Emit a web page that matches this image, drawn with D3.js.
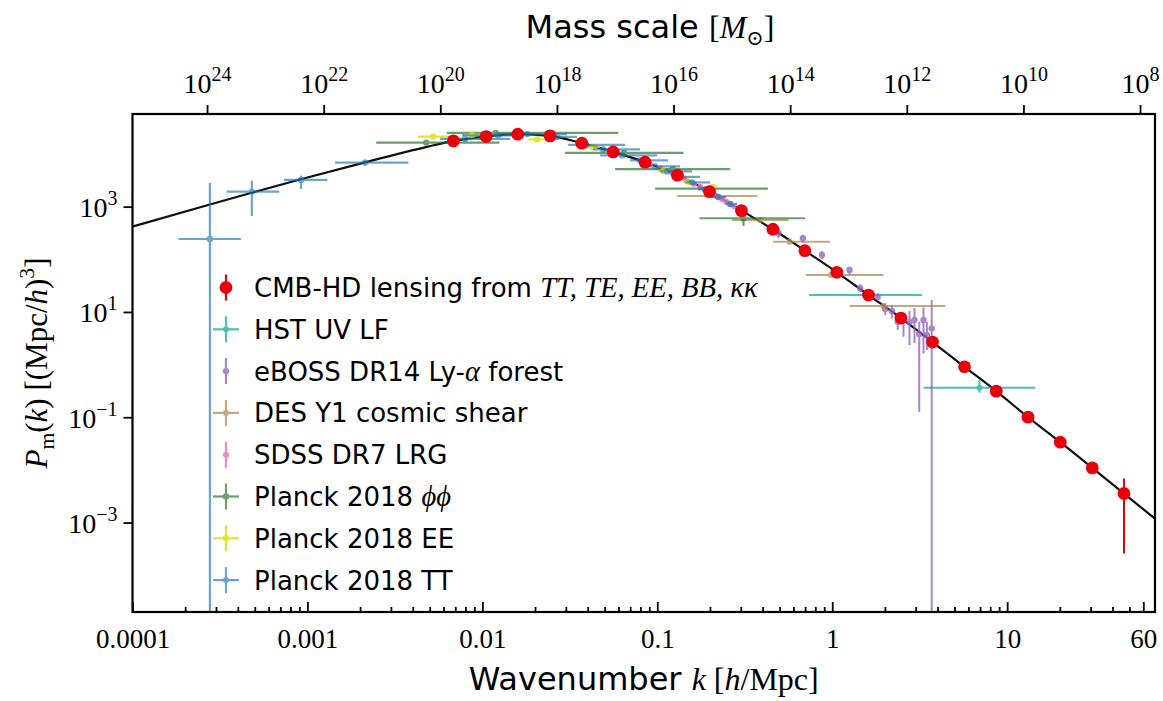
<!DOCTYPE html>
<html>
<head>
<meta charset="utf-8">
<script src="https://cdn.jsdelivr.net/npm/d3@7"></script>
<style>
  html, body { margin: 0; padding: 0; background: #fff; }
  svg { display: block; }
</style>
</head>
<body>
<svg id="chart" width="1163" height="701"></svg>
<script>
// ---------------------------------------------------------------
// Matter power spectrum P_m(k) with current and forecast probes
// k in h/Mpc, P in (Mpc/h)^3
// ---------------------------------------------------------------

// Linear theory model curve
const modelK = [1e-4, 2.77e-4, 4.8e-4, 9.28e-4, 2.135e-3, 4.81e-3, 0.00683, 0.0105, 0.01594, 0.02439, 0.03702, 0.05591, 0.0852, 0.1303, 0.1987, 0.3028, 0.4577, 0.6977, 1.063, 1.612, 2.47, 3.744, 5.704, 8.661, 13.15, 20.12, 30.66, 46.53, 70];
const modelP = [418.5, 1101, 1838, 3347, 6950, 13650, 17740, 21430, 23790, 22090, 16050, 10960, 6984, 3954, 1929, 839.5, 371.9, 145.7, 56.6, 20.96, 7.656, 2.678, 0.9083, 0.3134, 0.1005, 0.03363, 0.01092, 0.003559, 0.00118];

// CMB-HD lensing forecast
const cmbK = [0.00683, 0.0105, 0.01594, 0.02439, 0.03702, 0.05591, 0.0852, 0.1303, 0.1987, 0.3028, 0.4577, 0.6977, 1.063, 1.612, 2.47, 3.744, 5.704, 8.661, 13.15, 20.12, 30.66, 46.53];
const cmbP = [17740, 21430, 23790, 22090, 16050, 10960, 6984, 3954, 1929, 839.5, 371.9, 145.7, 56.6, 20.96, 7.656, 2.678, 0.9083, 0.3134, 0.1005, 0.03363, 0.01092, 0.003559];
const cmbErr = [150, 160, 170, 150, 110, 70, 45, 25, 12, 5, 2.2, 0.9, 0.35, 0.14, 0.06, 0.025, 0.01, 0.005, 0.002, 0.0009, 0.0006, 0.0033];

// HST UV luminosity function
const hstK = [1.578, 6.95];
const hstP = [20.96, 0.3622];
const hstKLo = [0.7382, 3.325];
const hstKHi = [3.256, 14.47];
const hstPLo = [19.5, 0.2911];
const hstPHi = [22.5, 0.5075];

// eBOSS DR14 Lyman-alpha forest (0 = lower bound below zero)
const lyaK = [0.4929, 0.6796, 0.8727, 1.255, 1.445, 1.819, 2.009, 2.193, 2.367, 2.555, 2.765, 2.953, 3.143, 3.325, 3.477, 3.704];
const lyaP = [312.1, 250.8, 120.7, 62.6, 28.1, 19.2, 11.36, 10.40, 6.51, 7.02, 6.43, 7.02, 3.80, 7.02, 3.64, 4.88];
const lyaPLo = [250.8, 206.9, 101.3, 50.3, 23.6, 16.1, 8.73, 7.56, 4.53, 3.38, 2.35, 2.56, 0.1267, 1.63, 1.89, 0];
const lyaPHi = [388.4, 293.7, 143.8, 72.3, 33.5, 22.9, 14.6, 13.5, 8.73, 9.41, 10.4, 11.9, 6.51, 12.2, 6.43, 16.8];

// DES Y1 cosmic shear
const desK = [0.217, 0.3873, 0.5696, 0.9824, 1.963];
const desP = [1597, 558.7, 216.1, 50.3, 12.95];
const desKLo = [0.1293, 0.2668, 0.4577, 0.7068, 1.255];
const desKHi = [0.3737, 0.5622, 0.9734, 1.963, 4.424];
const desPLo = [1500, 525, 203, 47.3, 12.2];
const desPHi = [1700, 592, 229, 53.3, 13.7];

// SDSS DR7 luminous red galaxies
const sdssK = [0.091, 0.1038, 0.1216, 0.1424, 0.1624, 0.1758, 0.1877, 0.2005, 0.2113, 0.2228, 0.2349, 0.2475, 0.261, 0.275, 0.2899, 0.3056];
const sdssP = [6397, 5370, 4334, 3407, 2713, 2379, 2123, 1895, 1706, 1536, 1389, 1250, 1125, 1013, 912, 825];
const sdssErr = [640, 540, 430, 340, 270, 240, 210, 190, 170, 150, 140, 125, 110, 100, 90, 80];

// Planck 2018 lensing (phi-phi)
const ppK = [4.77e-3, 0.01193, 0.06463, 0.1224, 0.2032, 0.3108];
const ppP = [16470, 25180, 10490, 5140, 2199, 601.9];
const ppKLo = [2.47e-3, 6.26e-3, 0.02972, 0.05737, 0.09721, 0.1742];
const ppKHi = [0.01252, 0.05993, 0.1411, 0.261, 0.4285, 0.7004];
const ppPLo = [14800, 22700, 9440, 4630, 1980, 430];
const ppPHi = [18100, 27700, 11500, 5650, 2420, 790];

// Planck 2018 EE
const eeK = [5.23e-3, 8.74e-3, 0.02055, 0.0424, 0.05518, 0.108, 0.1501, 0.2086];
const eeP = [21420, 23070, 18950, 13650, 11200, 4773, 2988, 2368];
const eeKLo = [4.29e-3, 7.66e-3, 0.01826, 0.03867, 0.0503, 0.1011, 0.1405, 0.1953];
const eeKHi = [7.17e-3, 0.01036, 0.02314, 0.04712, 0.0613, 0.1153, 0.1603, 0.2228];
const eePLo = [19700, 21200, 17400, 12600, 10300, 4390, 2750, 2180];
const eePHi = [23100, 24900, 20500, 14700, 12100, 5150, 3230, 2560];

// Planck 2018 TT (0 = lower bound below zero)
const ttK = [2.77e-4, 4.81e-4, 9.19e-4, 2.135e-3, 7.96e-3, 0.0123, 0.01802, 0.02675, 0.03917, 0.04901, 0.06295, 0.07976, 0.09721, 0.1138, 0.1351, 0.1582, 0.1877, 0.2228, 0.261];
const ttP = [243, 1929, 3218, 6863, 19370, 22580, 23890, 21140, 14890, 12230, 9406, 7555, 5812, 4670, 3670, 2885, 2123, 1529, 1125];
const ttKLo = [1.83e-4, 3.456e-4, 7.35e-4, 1.439e-3, 5.73e-3, 7.66e-3, 0.01263, 0.02284, 0.03092, 0.04296, 0.04712, 0.06993, 0.07976, 0.1038, 0.1216, 0.1443, 0.1712, 0.2059, 0.2443];
const ttKHi = [4.17e-4, 6.91e-4, 1.30e-3, 3.776e-3, 0.0144, 0.01479, 0.03051, 0.0348, 0.06549, 0.07976, 0.09979, 0.1153, 0.1351, 0.1582, 0.1758, 0.2005, 0.217, 0.2475, 0.2861];
const ttPLo = [0, 665.6, 2170, 6050, 17600, 20500, 21700, 19200, 13500, 11100, 8550, 6870, 5280, 4250, 3340, 2620, 1930, 1390, 1020];
const ttPHi = [2826, 3121, 3885, 7800, 21300, 24800, 26200, 23200, 16300, 13400, 10300, 8280, 6370, 5120, 4020, 3160, 2330, 1680, 1230];

// Axis ticks
const xTickValues = [1e-4, 1e-3, 1e-2, 0.1, 1, 10, 60];
const xTickLabels = ["0.0001", "0.001", "0.01", "0.1", "1", "10", "60"];
const yTickValues = [1e3, 1e1, 1e-1, 1e-3];
const yTickExps = ["3", "1", "\u22121", "\u22123"];
const massTickValues = [1e24, 1e22, 1e20, 1e18, 1e16, 1e14, 1e12, 1e10, 1e8];
const massTickExps = ["24", "22", "20", "18", "16", "14", "12", "10", "8"];

// Mass enclosed on scale k:  M = massAtUnitK * k^-3  (M_sun, k in h/Mpc)
const massAtUnitK = 1.9e13;

// ---------------------------------------------------------------
const SERIF = '"Liberation Serif", "DejaVu Serif", serif';
const SANS = '"DejaVu Sans", sans-serif';
const plot = { left: 132.5, right: 1155, top: 114, bottom: 612 };
const kDomain = [1e-4, 70];
const pDomain = [2e-5, 5.75e4];

const svg = d3.select("#chart");
svg.append("rect").attr("width", 1163).attr("height", 701).attr("fill", "#fff");

const x = d3.scaleLog().domain(kDomain).range([plot.left, plot.right]);
const y = d3.scaleLog().domain(pDomain).range([plot.bottom, plot.top]);
const xMass = d3.scaleLog()
  .domain([massAtUnitK / Math.pow(kDomain[0], 3), massAtUnitK / Math.pow(kDomain[1], 3)])
  .range([plot.left, plot.right]);

svg.append("defs").append("clipPath").attr("id", "plotClip")
  .append("rect")
  .attr("x", plot.left).attr("y", plot.top)
  .attr("width", plot.right - plot.left).attr("height", plot.bottom - plot.top);

const inner = svg.append("g").attr("clip-path", "url(#plotClip)");

// model curve
const line = d3.line().x(d => x(d[0])).y(d => y(d[1])).curve(d3.curveMonotoneX);
inner.append("path")
  .datum(d3.zip(modelK, modelP))
  .attr("d", line)
  .attr("fill", "none").attr("stroke", "#111").attr("stroke-width", 2.2);

const yOf = v => (v > 0 ? y(v) : plot.bottom + 20);

function drawSeries(s) {
  const g = inner.append("g").attr("opacity", s.opacity);
  s.k.forEach((k, i) => {
    if (s.kLo) {
      g.append("line")
        .attr("x1", x(s.kLo[i])).attr("x2", x(s.kHi[i]))
        .attr("y1", y(s.p[i])).attr("y2", y(s.p[i]))
        .attr("stroke", s.color).attr("stroke-width", s.lw);
    }
    if (s.pLo) {
      g.append("line")
        .attr("x1", x(k)).attr("x2", x(k))
        .attr("y1", yOf(s.pLo[i])).attr("y2", yOf(s.pHi[i]))
        .attr("stroke", s.color).attr("stroke-width", s.lw);
    }
    g.append("circle")
      .attr("cx", x(k)).attr("cy", y(s.p[i])).attr("r", s.r)
      .attr("fill", s.color);
  });
}

const series = {
  hst:  { k: hstK, p: hstP, kLo: hstKLo, kHi: hstKHi, pLo: hstPLo, pHi: hstPHi, color: "#1fb3a3", opacity: 0.8, r: 3, lw: 2 },
  lya:  { k: lyaK, p: lyaP, pLo: lyaPLo, pHi: lyaPHi, color: "#9467bd", opacity: 0.8, r: 3.2, lw: 2 },
  des:  { k: desK, p: desP, kLo: desKLo, kHi: desKHi, pLo: desPLo, pHi: desPHi, color: "#b08d57", opacity: 0.75, r: 3, lw: 2 },
  sdss: { k: sdssK, p: sdssP, pLo: sdssP.map((v, i) => v - sdssErr[i]), pHi: sdssP.map((v, i) => v + sdssErr[i]), color: "#e377c2", opacity: 0.85, r: 3, lw: 2 },
  pp:   { k: ppK, p: ppP, kLo: ppKLo, kHi: ppKHi, pLo: ppPLo, pHi: ppPHi, color: "#1f6b1f", opacity: 0.65, r: 3.2, lw: 2.2 },
  ee:   { k: eeK, p: eeP, kLo: eeKLo, kHi: eeKHi, pLo: eePLo, pHi: eePHi, color: "#dede00", opacity: 0.8, r: 3.2, lw: 2.2 },
  tt:   { k: ttK, p: ttP, kLo: ttKLo, kHi: ttKHi, pLo: ttPLo, pHi: ttPHi, color: "#1f77b4", opacity: 0.66, r: 3.2, lw: 2.2 }
};

["hst", "lya", "des", "sdss", "pp", "ee", "tt"].forEach(key => drawSeries(series[key]));

// CMB-HD forecast on top
const cmb = inner.append("g");
cmbK.forEach((k, i) => {
  const lo = cmbP[i] - cmbErr[i], hi = cmbP[i] + cmbErr[i];
  cmb.append("line")
    .attr("x1", x(k)).attr("x2", x(k))
    .attr("y1", yOf(lo)).attr("y2", yOf(hi))
    .attr("stroke", "#e8000b").attr("stroke-width", 2);
});
cmbK.forEach((k, i) => {
  cmb.append("circle")
    .attr("cx", x(k)).attr("cy", y(cmbP[i])).attr("r", 6.4)
    .attr("fill", "#e8000b");
});

// ---------------- axes ----------------
function styleAxis(g) {
  g.select(".domain").remove();
  g.selectAll(".tick line").attr("stroke", "#000").attr("stroke-width", 1.8);
}

// bottom: k, ticks inside
const minorK = [];
for (let e = -4; e <= 1; e++) {
  for (let m = 2; m <= 9; m++) {
    const v = m * Math.pow(10, e);
    if (v < kDomain[1] && v !== 60) minorK.push(v);
  }
}
const gxMinor = svg.append("g").attr("transform", `translate(0,${plot.bottom})`)
  .call(d3.axisBottom(x).tickValues(minorK).tickFormat("").tickSize(-5));
styleAxis(gxMinor);

const gx = svg.append("g").attr("transform", `translate(0,${plot.bottom})`)
  .call(d3.axisBottom(x).tickValues(xTickValues).tickFormat((d, i) => xTickLabels[i]).tickSize(-10).tickPadding(17));
styleAxis(gx);
gx.selectAll(".tick text").attr("font-family", SERIF).attr("font-size", 27).attr("fill", "#000");

// left: P(k), ticks outside
const gy = svg.append("g").attr("transform", `translate(${plot.left},0)`)
  .call(d3.axisLeft(y).tickValues(yTickValues).tickFormat("").tickSize(9));
styleAxis(gy);
gy.selectAll(".tick").each(function (d, i) {
  const t = d3.select(this).append("text")
    .attr("x", -15).attr("y", 10)
    .attr("text-anchor", "end")
    .attr("font-family", SERIF).attr("font-size", 28).attr("fill", "#000");
  t.append("tspan").text("10");
  t.append("tspan").attr("font-size", 20).attr("dy", -12).text(yTickExps[i]);
});

// top: mass scale, ticks outside
const gt = svg.append("g").attr("transform", `translate(0,${plot.top})`)
  .call(d3.axisTop(xMass).tickValues(massTickValues).tickFormat("").tickSize(9));
styleAxis(gt);
gt.selectAll(".tick").each(function (d, i) {
  const t = d3.select(this).append("text")
    .attr("x", 0).attr("y", -21)
    .attr("text-anchor", "middle")
    .attr("font-family", SERIF).attr("font-size", 28).attr("fill", "#000");
  t.append("tspan").text("10");
  t.append("tspan").attr("font-size", 20).attr("dy", -12).text(massTickExps[i]);
});

// frame
svg.append("rect")
  .attr("x", plot.left).attr("y", plot.top)
  .attr("width", plot.right - plot.left).attr("height", plot.bottom - plot.top)
  .attr("fill", "none").attr("stroke", "#000").attr("stroke-width", 2.2);

// ---------------- mixed-font text ----------------
// segment: {t, f: "sans"|"it"|"rm", s: size scale, shift: px (positive = down)}
function richText(parent, segs, attrs, size) {
  const t = parent.append("text").attr("fill", "#000").attr("font-size", size);
  Object.entries(attrs).forEach(([k, v]) => t.attr(k, v));
  let cur = 0;
  segs.forEach(sg => {
    const shift = sg.shift || 0;
    const ts = t.append("tspan").text(sg.t)
      .attr("font-family", sg.f === "sans" ? SANS : SERIF)
      .attr("font-style", sg.f === "it" ? "italic" : "normal");
    if (sg.s) ts.attr("font-size", size * sg.s);
    if (shift !== cur) { ts.attr("dy", shift - cur); cur = shift; }
  });
  return t;
}

// x label
richText(svg, [
  { t: "Wavenumber ", f: "sans" },
  { t: "k", f: "it" },
  { t: " [", f: "rm" },
  { t: "h", f: "it" },
  { t: "/Mpc]", f: "rm" }
], { x: (plot.left + plot.right) / 2, y: 690, "text-anchor": "middle" }, 32);

// top label
richText(svg, [
  { t: "Mass scale ", f: "sans" },
  { t: "[", f: "rm" },
  { t: "M", f: "it" },
  { t: "\u2299", f: "rm", s: 0.65, shift: 7 },
  { t: "]", f: "rm", shift: 0 }
], { x: 650, y: 38, "text-anchor": "middle" }, 32);

// y label
richText(svg.append("g").attr("transform", `translate(47,${(plot.top + plot.bottom) / 2}) rotate(-90)`), [
  { t: "P", f: "it" },
  { t: "m", f: "rm", s: 0.7, shift: 7 },
  { t: "(", f: "rm", shift: 0 },
  { t: "k", f: "it" },
  { t: ") [(Mpc/", f: "rm" },
  { t: "h", f: "it" },
  { t: ")", f: "rm" },
  { t: "3", f: "rm", s: 0.7, shift: -13 },
  { t: "]", f: "rm", shift: 0 }
], { x: 0, y: 0, "text-anchor": "middle" }, 31);

// ---------------- legend ----------------
const legendItems = [
  { key: "cmb", color: "#e8000b", opacity: 1, xbar: false, r: 6.4,
    label: [{ t: "CMB-HD lensing from ", f: "sans" }, { t: "TT, TE, EE, BB, \u03ba\u03ba", f: "it", s: 1.1 }] },
  { key: "hst", color: series.hst.color, opacity: series.hst.opacity, xbar: true, r: 3,
    label: [{ t: "HST UV LF", f: "sans" }] },
  { key: "lya", color: series.lya.color, opacity: series.lya.opacity, xbar: false, r: 3.2,
    label: [{ t: "eBOSS DR14 Ly-", f: "sans" }, { t: "\u03b1", f: "it", s: 1.1 }, { t: " forest", f: "sans" }] },
  { key: "des", color: series.des.color, opacity: series.des.opacity, xbar: true, r: 3,
    label: [{ t: "DES Y1 cosmic shear", f: "sans" }] },
  { key: "sdss", color: series.sdss.color, opacity: series.sdss.opacity, xbar: false, r: 3,
    label: [{ t: "SDSS DR7 LRG", f: "sans" }] },
  { key: "pp", color: series.pp.color, opacity: series.pp.opacity, xbar: true, r: 3.2,
    label: [{ t: "Planck 2018 ", f: "sans" }, { t: "\u03d5\u03d5", f: "it", s: 1.1 }] },
  { key: "ee", color: series.ee.color, opacity: series.ee.opacity, xbar: true, r: 3.2,
    label: [{ t: "Planck 2018 EE", f: "sans" }] },
  { key: "tt", color: series.tt.color, opacity: series.tt.opacity, xbar: true, r: 3,
    label: [{ t: "Planck 2018 TT", f: "sans" }] }
];

const legend = svg.append("g").attr("transform", "translate(226,287.5)");
legendItems.forEach((it, i) => {
  const row = legend.append("g").attr("transform", `translate(0,${i * 41.8})`);
  const h = row.append("g").attr("opacity", it.opacity);
  h.append("line").attr("x1", 0).attr("x2", 0).attr("y1", -13).attr("y2", 13)
    .attr("stroke", it.color).attr("stroke-width", 2.2);
  if (it.xbar) {
    h.append("line").attr("x1", -13).attr("x2", 13).attr("y1", 0).attr("y2", 0)
      .attr("stroke", it.color).attr("stroke-width", 2.2);
  }
  h.append("circle").attr("r", it.r).attr("fill", it.color);
  richText(row, it.label, { x: 28, y: 9.5 }, 26);
});
</script>
</body>
</html>
